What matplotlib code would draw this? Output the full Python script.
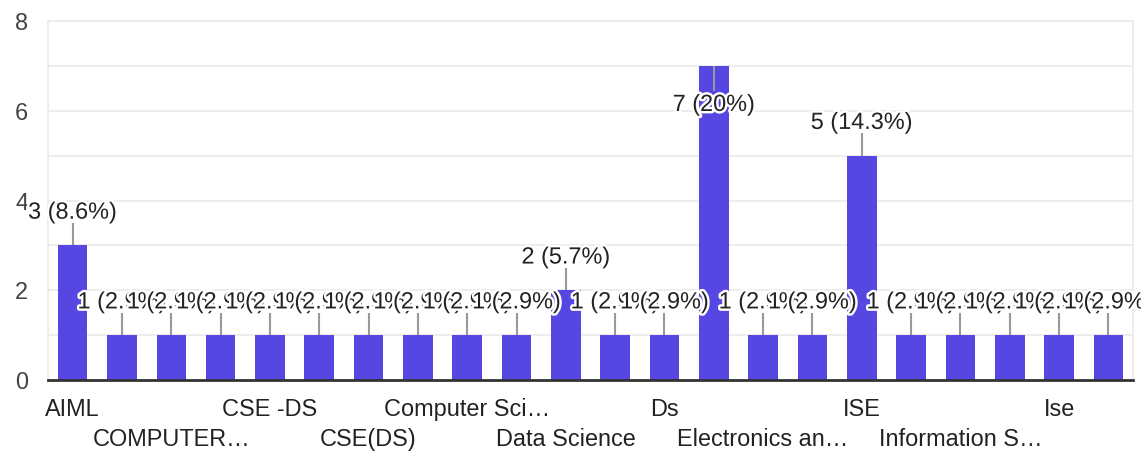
import matplotlib
matplotlib.use("Agg")
import matplotlib.pyplot as plt
import matplotlib.patheffects as pe
import numpy as np

plt.rcParams['font.family'] = ['Liberation Sans', 'DejaVu Sans']

# categories (only every second one is readable in the source; others left blank)
categories = ["AIML", "", "COMPUTER\u2026", "", "CSE -DS", "", "CSE(DS)", "",
              "Computer Sci\u2026", "", "Data Science", "", "Ds", "",
              "Electronics an\u2026", "", "ISE", "", "Information S\u2026", "",
              "Ise", ""]
counts = [3, 1, 1, 1, 1, 1, 1, 1, 1, 1, 2, 1, 1, 7, 1, 1, 5, 1, 1, 1, 1, 1]
y_ticks = [0, 2, 4, 6, 8]

BAR = "#5646E2"
TXT = "#222222"
FS = 16.9

total = sum(counts)
x = np.arange(len(counts))

fig = plt.figure(figsize=(11.41, 4.51), dpi=100)
ax = fig.add_axes([48 / 1141, 71 / 451, (1133 - 48) / 1141, (380 - 21) / 451])

ax.set_xlim(-0.5, len(counts) - 0.5)
ax.set_ylim(0, 8)
ax.set_yticks(y_ticks)
ax.set_yticks([1, 3, 5, 7], minor=True)
ax.grid(axis="y", which="both", color="#ececec", linewidth=1.3)
ax.set_axisbelow(True)

ax.bar(x, counts, width=0.6, color=BAR, zorder=2)

# x labels on two alternating rows
lab_idx = [i for i, c in enumerate(categories) if c]
row1 = lab_idx[0::2]
row2 = lab_idx[1::2]
ax.set_xticks(row1, [categories[i] for i in row1])
ax.set_xticks(row2, [categories[i] for i in row2], minor=True)
ax.tick_params(axis="x", which="major", length=0, pad=13, labelsize=FS, labelcolor=TXT)
ax.tick_params(axis="x", which="minor", length=0, pad=34.5, labelsize=FS, labelcolor=TXT)
ax.tick_params(axis="y", which="both", length=0, pad=19, labelsize=FS, labelcolor="#444444")
for lbl in ax.get_yticklabels():
    lbl.set_horizontalalignment("center")

for s in ["left", "right", "top"]:
    ax.spines[s].set_color("#ececec")
    ax.spines[s].set_linewidth(1.3)
ax.spines["bottom"].set_color("#333333")
ax.spines["bottom"].set_linewidth(2)
ax.spines["bottom"].set_zorder(5)

stroke = [pe.withStroke(linewidth=3.5, foreground="white")]
top = ax.get_ylim()[1]
for i, v in enumerate(counts):
    pct = 100 * v / total
    txt = f"{v} ({pct:.1f}%)".replace(".0%", "%")
    if v + 0.78 > top - 0.4:
        ty, ly = v - 0.86, v - 0.55
    else:
        ty, ly = v + 0.74, v + 0.5
    ax.plot([i, i], [v, ly], color="#999999", linewidth=1.5, zorder=3,
            solid_capstyle="butt")
    ax.text(i, ty, txt, ha="center", va="center", fontsize=FS, color=TXT,
            path_effects=stroke, zorder=4)

fig.savefig("out.png", dpi=100)
